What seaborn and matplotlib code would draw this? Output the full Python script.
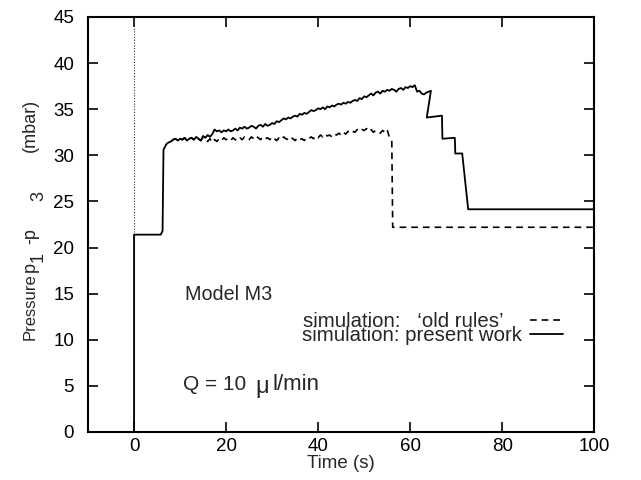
import matplotlib
matplotlib.use("Agg")
import matplotlib.pyplot as plt
import seaborn as sns
import pandas as pd

# ---- data ----
# start-up of both simulations (identical)
start_t = [0, 0, 5.8, 6.2, 6.4, 7.0, 7.5]
start_p = [0, 21.4, 21.4, 21.8, 30.6, 31.2, 31.4]

# noisy plateau, sampled every 0.5 s from t = 8 s
noisy_t0 = 8.0
noisy_dt = 0.5
present_noisy = [
    31.5, 31.7, 31.8, 31.6, 31.8, 31.7, 31.9, 31.6, 31.8, 31.9,
    31.7, 32.0, 31.8, 31.6, 32.1, 31.9, 32.2, 32.0, 32.3, 32.8,
    32.6, 32.7, 32.5, 32.7, 32.6, 32.8, 32.6, 32.7, 32.9, 32.7,
    33.0, 32.9, 33.1, 32.9, 33.0, 33.2, 33.1, 32.9, 33.2, 33.3,
    33.1, 33.4, 33.2, 33.3, 33.5, 33.4, 33.7, 33.6, 33.8, 34.0,
    33.9, 34.1, 34.0, 34.2, 34.3, 34.2, 34.5, 34.4, 34.6, 34.5,
    34.7, 34.9, 34.8, 34.9, 35.1, 35.0, 35.2, 35.0, 35.3, 35.2,
    35.4, 35.3, 35.5, 35.6, 35.5, 35.7, 35.6, 35.8, 35.7, 35.9,
    36.0, 35.9, 36.2, 36.1, 36.4, 36.3, 36.5, 36.7, 36.5, 36.8,
    36.9, 36.7, 37.0, 36.9, 37.1, 37.0, 37.2, 37.1, 36.9, 37.2,
    37.3, 37.1, 37.4, 37.3, 37.5, 37.4, 37.6, 36.9, 37.0, 36.7,
    36.6, 36.8, 36.9, 37.0]
old_noisy = [
    31.5, 31.7, 31.8, 31.6, 31.8, 31.7, 31.9, 31.6, 31.8, 31.9,
    31.7, 32.0, 31.8, 31.6, 31.9, 31.7, 31.5, 31.8, 31.4, 31.7,
    31.5, 31.8, 31.6, 31.9, 31.7, 31.8, 31.6, 31.9, 31.7, 31.6,
    31.9, 31.7, 32.0, 31.8, 31.7, 32.0, 31.8, 32.1, 31.9, 31.7,
    32.0, 31.8, 31.9, 31.7, 32.0, 31.8, 31.6, 31.9, 31.7, 32.0,
    31.8, 31.7, 32.0, 31.8, 31.6, 31.9, 31.7, 31.8, 31.6, 31.9,
    31.8, 32.0, 31.8, 32.1, 31.9, 32.2, 32.0, 32.3, 32.1, 32.2,
    32.0, 32.3, 32.2, 32.4, 32.2, 32.5, 32.3, 32.6, 32.4, 32.6,
    32.5, 32.8, 32.6, 32.8, 32.7, 32.9, 32.6, 32.8, 32.5, 32.7,
    32.6, 32.4, 32.7, 32.5, 32.8, 31.9, 31.5]

# stepwise decay after the plateau
present_end_t = [63.6, 66.9, 67.0, 69.7, 69.8, 71.3, 72.6, 100]
present_end_p = [34.1, 34.3, 31.8, 31.9, 30.2, 30.2, 24.15, 24.15]
old_end_t = [56.2, 100]
old_end_p = [22.2, 22.2]

x_ticks = [0, 20, 40, 60, 80, 100]
y_ticks = [0, 5, 10, 15, 20, 25, 30, 35, 40, 45]

present_t = start_t + [noisy_t0 + noisy_dt * i for i in range(len(present_noisy))] + present_end_t
present_p = start_p + present_noisy + present_end_p
old_t = [noisy_t0 + noisy_dt * i for i in range(len(old_noisy))] + old_end_t
old_p = old_noisy + old_end_p

sns.set_theme(style="ticks")
plt.rcParams['font.family'] = ['Liberation Sans', 'DejaVu Sans']

W, H = 641, 480
fig, ax = plt.subplots(figsize=(W / 100, H / 100), dpi=100)
fig.subplots_adjust(left=88 / W, right=594.3 / W, bottom=1 - 432 / H, top=1 - 17 / H)

ax.axvline(0, color="#333333", ls=(0, (1, 1.5)), lw=0.8)

df_old = pd.DataFrame({"t": old_t, "p": old_p})
df_new = pd.DataFrame({"t": present_t, "p": present_p})
sns.lineplot(data=df_old, x="t", y="p", sort=False, estimator=None, color="black",
             lw=1.2, ax=ax)
old_line = ax.lines[-1]
old_line.set_linestyle((0, (4, 3)))
sns.lineplot(data=df_new, x="t", y="p", sort=False, estimator=None, color="black",
             lw=1.3, ax=ax)
new_line = ax.lines[-1]

ax.set_xlim(-10, 100)
ax.set_ylim(0, 45)
ax.set_xticks(x_ticks)
ax.set_yticks(y_ticks)
ax.tick_params(direction="in", length=7, width=1.2, top=True, right=True,
               labelsize=13.5, colors="black", pad=4)
ax.tick_params(axis="y", pad=10)
for s in ax.spines.values():
    s.set_linewidth(1.5)
    s.set_color("black")

ax.set_xlabel("Time (s)", fontsize=13.5, labelpad=0)
ax.set_ylabel("")

# y label built gnuplot-style with full-size, lowered subscripts
def ytext(px_x, px_y, s, size=13):
    fig.text(px_x / W, 1 - px_y / H, s, rotation=90, rotation_mode="anchor",
             ha="left", va="baseline", fontsize=size)

ytext(35, 340, "Pressure", 12)
ytext(35, 272, "p")
ytext(43, 262, "1")
ytext(35, 244, "-p")
ytext(43, 201, "3")
ytext(35, 152, "(mbar)")

ax.text(11.0, 14.9, "Model M3", fontsize=14.2, va="center", ha="left")
ax.text(10.6, 5.1, "Q = 10", fontsize=15, va="center", ha="left")
ax.text(26.4, 4.9, "\u03bc", fontsize=17, va="center", ha="left")
ax.text(30.0, 5.1, "l/min", fontsize=16, va="center", ha="left")

ax.text(36.7, 12.0, "simulation:   \u2018old rules\u2019", fontsize=14.7, va="center", ha="left")
ax.text(36.5, 10.5, "simulation: present work", fontsize=14.7, va="center", ha="left")
ax.legend([old_line, new_line], ["", ""], loc="center right",
          bbox_to_anchor=(93.2, 11.2), bbox_transform=ax.transData,
          frameon=False, markerfirst=False, fontsize=14, handlelength=1.7,
          handletextpad=0, labelspacing=-0.2, borderpad=0, borderaxespad=0)

fig.savefig("out.png", dpi=100)
